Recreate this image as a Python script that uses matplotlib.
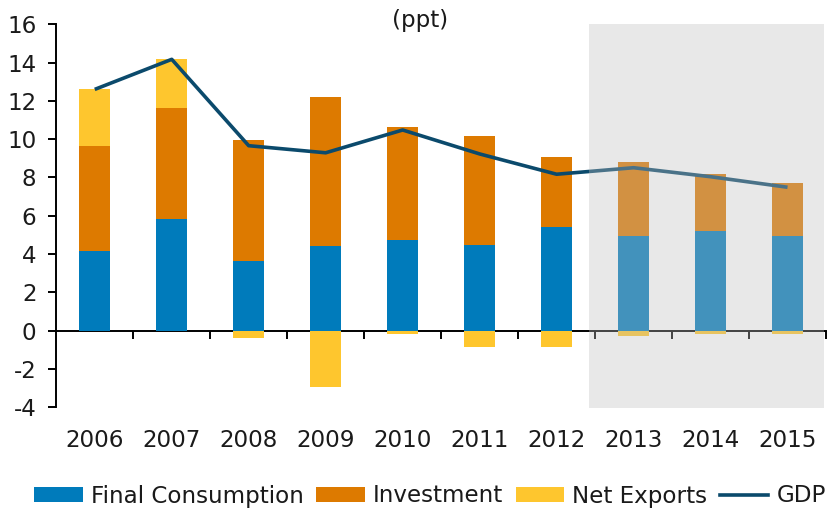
import matplotlib
matplotlib.use("Agg")
import matplotlib.pyplot as plt
import matplotlib.transforms as mtransforms
from matplotlib.patches import Rectangle, Patch
from matplotlib.lines import Line2D
import numpy as np

years = ["2006", "2007", "2008", "2009", "2010", "2011", "2012", "2013", "2014", "2015"]
final_consumption = [4.16, 5.83, 3.64, 4.44, 4.74, 4.48, 5.42, 4.95, 5.21, 4.95]
investment = [5.49, 5.80, 6.32, 7.78, 5.90, 5.69, 3.65, 3.86, 2.97, 2.76]
net_exports = [2.97, 2.56, -0.36, -2.92, -0.16, -0.84, -0.84, -0.26, -0.16, -0.16]
gdp = [12.60, 14.17, 9.66, 9.29, 10.48, 9.23, 8.17, 8.51, 8.04, 7.49]
yticks = [-4, -2, 0, 2, 4, 6, 8, 10, 12, 14, 16]

c_fc = "#007bbb"
c_inv = "#dd7a00"
c_nx = "#fec62e"
c_gdp = "#0b4a6c"
txt = "#1a1a1a"
FS = 16.6

plt.rcParams["font.family"] = ["DejaVu Sans"]

fig = plt.figure(figsize=(8.3, 5.09), dpi=100)
ax = fig.add_axes([0.0678, 0.1998, 0.9274, 0.7525])

x = np.arange(len(years))
w = 0.40
fc = np.array(final_consumption)
inv = np.array(investment)
nx = np.array(net_exports)
ax.bar(x, fc, w, color=c_fc, zorder=3)
ax.bar(x, inv, w, bottom=fc, color=c_inv, zorder=3)
nx_bottom = np.where(nx >= 0, fc + inv, 0)
ax.bar(x, nx, w, bottom=nx_bottom, color=c_nx, zorder=3)
ax.plot(x, gdp, color=c_gdp, lw=2.6, zorder=4, solid_capstyle="butt")

ax.set_xlim(-0.5, 9.5)
ax.set_ylim(-4, 16)

# forecast shading overlay
trans = mtransforms.blended_transform_factory(ax.transData, ax.transAxes)
ax.add_patch(Rectangle((6.42, -0.003), 3.05, 1.003, transform=trans,
                       facecolor=(190/255, 190/255, 190/255), alpha=0.353,
                       edgecolor="none", zorder=10, clip_on=False))

for s in ["top", "right"]:
    ax.spines[s].set_visible(False)
ax.spines["bottom"].set_position(("data", 0))
ax.spines["bottom"].set_linewidth(1.4)
ax.spines["left"].set_linewidth(1.4)
ax.spines["bottom"].set_color("black")
ax.spines["left"].set_color("black")

ax.set_xticks(np.arange(0.5, 10.0, 1.0))
ax.set_xticklabels([])
ax.tick_params(axis="x", direction="out", length=5.8, width=1.4, color="black")
ax.set_yticks(yticks)
ax.set_yticklabels([str(v) for v in yticks])
ax.tick_params(axis="y", direction="out", length=5.8, width=1.4, color="black",
               labelsize=FS, labelcolor=txt, pad=8.5)

for i, yr in enumerate(years):
    ax.annotate(yr, xy=(i, -4), xycoords="data", xytext=(0, -33),
                textcoords="offset pixels", ha="center", va="center",
                fontsize=FS, color=txt, annotation_clip=False)

fig.text(420 / 830, 1 - 20 / 509, "(ppt)", ha="center", va="center",
         fontsize=FS, color=txt)

handles = [Patch(facecolor=c_fc, edgecolor="none"),
           Patch(facecolor=c_inv, edgecolor="none"),
           Patch(facecolor=c_nx, edgecolor="none"),
           Line2D([0], [0], color=c_gdp, lw=2.6)]
labels = ["Final Consumption", "Investment", "Net Exports", "GDP"]
leg = fig.legend(handles, labels, loc="center", bbox_to_anchor=(430 / 830, 1 - 496 / 509),
                 ncol=4, frameon=False, fontsize=FS, handlelength=2.1,
                 handleheight=0.6, handletextpad=0.35, columnspacing=0.55,
                 borderaxespad=0, borderpad=0)
for t in leg.get_texts():
    t.set_color(txt)

fig.savefig("out.png", dpi=100)
